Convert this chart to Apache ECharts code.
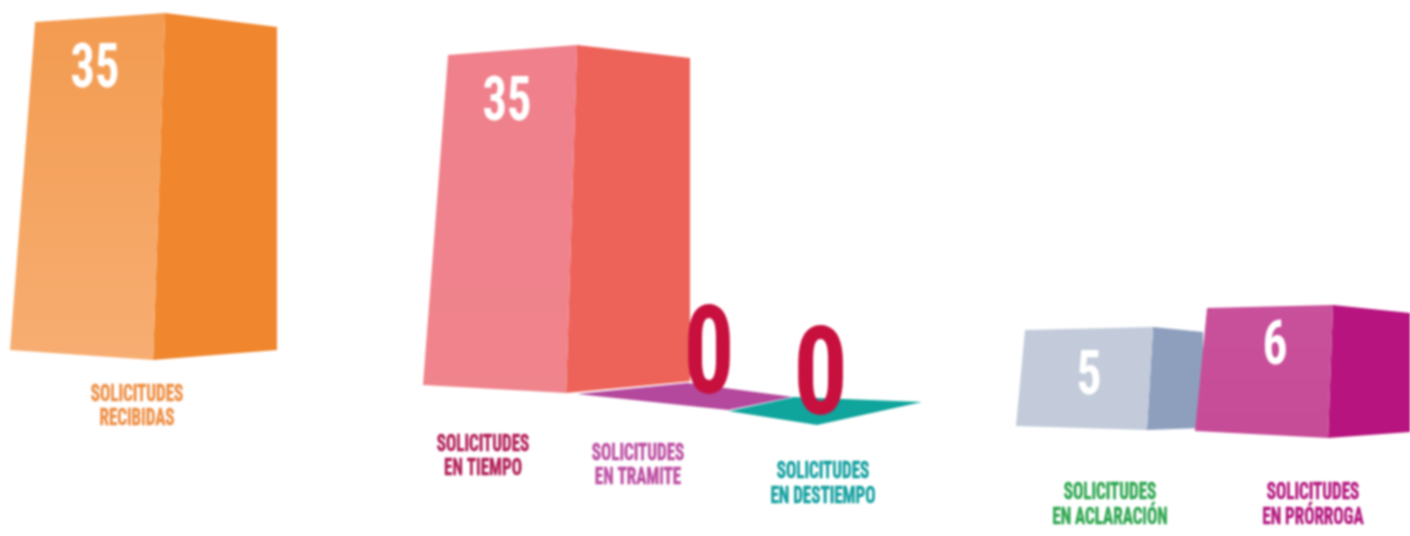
<!DOCTYPE html>
<html><head><meta charset="utf-8">
<style>html,body{margin:0;padding:0;background:#fff}#c{width:1410px;height:536px;filter:blur(.9px)}</style>
<script src="https://cdn.jsdelivr.net/npm/echarts@6/dist/echarts.min.js"></script>
</head><body><div id="c"></div>
<script>
const categories = ['SOLICITUDES\nRECIBIDAS','SOLICITUDES\nEN TIEMPO','SOLICITUDES\nEN TRAMITE','SOLICITUDES\nEN DESTIEMPO','SOLICITUDES\nEN ACLARACIÓN','SOLICITUDES\nEN PRÓRROGA'];
const values = [35, 35, 0, 0, 5, 6];

// layout: panel box, face shapes as fractions of the panel, label offsets, colours
const FONT = '"Liberation Sans Narrow","Roboto Condensed","Liberation Sans",sans-serif';
const panels = [
 {box:[10,13,267,347], front:[[.094,.026],[.581,0],[.536,1],[0,.971]], side:[[.581,0],[1,.040],[1,.971],[.536,1]],
  fill:['#F39B50','#F7AE72'], sideFill:'#F0862E', text:'#EE8F45', label:[-6.5,47], num:[-48.5,58], numScale:.78},
 {box:[423,45,267,348], front:[[.094,.029],[.577,0],[.536,1],[0,.977]], side:[[.577,0],[1,.037],[1,.966],[.536,1]],
  fill:['#EF808C','#F0848C'], sideFill:'#ED6359', text:'#B21F58', label:[-73.5,64], num:[-49.5,59], numScale:.78},
 {box:[577,383,216,27], floor:[[0,.41],[.51,0],[1,.52],[.70,1]],
  fill:['#B4489D','#B4489D'], text:'#BC4DA2', label:[-47,56], num:[24,-20.5], numScale:.82},
 {box:[728,397,194,28], floor:[[0,.5],[.335,0],[1,.18],[.459,1]], seam:true,
  fill:['#0FA49C','#0FA49C'], text:'#139F9F', label:[-2,59.5], num:[-4.5,-13.5], numScale:.88},
 {box:[1016,327,187,103], front:[[.048,.029],[.733,0],[.70,1],[0,.961]], side:[[.733,0],[1,.049],[1,.98],[.70,1]],
  fill:['#C3CBDA','#C3CBDA'], sideFill:'#8E9FBE', text:'#2EA650', label:[.5,75.5], num:[-20.5,51], numScale:.8},
 {box:[1195,305,215,133], front:[[.056,.023],[.642,0],[.619,1],[0,.947]], side:[[.642,0],[1,.06],[1,.955],[.619,1]],
  fill:['#C9509B','#C74C98'], sideFill:'#B7147F', text:'#B4177F', label:[10.5,67.5], num:[-27.5,43], numScale:.8}
];

const grids = panels.map(p => ({left:p.box[0], top:p.box[1], width:p.box[2], height:p.box[3], containLabel:false}));
const xAxes = panels.map((p,i) => ({gridIndex:i, type:'category', data:[categories[i]], show:false, boundaryGap:true}));
const yAxes = panels.map((p,i) => ({gridIndex:i, type:'value', min:0, max:values[i]||1, show:false}));

function renderBar(p, i){
  return function(params, api){
    const val = api.value(1);
    const base = api.coord([0, 0]);
    const topY = api.coord([0, val||1])[1];
    const w = api.size([1,0])[0];
    const h = base[1] - topY;
    const left = base[0] - w/2;
    const pts = f => f.map(q => [left + q[0]*w, topY + q[1]*h]);
    const grad = new echarts.graphic.LinearGradient(0,0,0,1,[{offset:0,color:p.fill[0]},{offset:1,color:p.fill[1]}]);
    const kids = [];
    if (p.floor) {
      kids.push({type:'polygon', shape:{points:pts(p.floor)}, style:{fill:grad}});
      if (p.seam) {
        const s = pts(p.floor);
        kids.push({type:'line', shape:{x1:s[0][0],y1:s[0][1],x2:s[1][0],y2:s[1][1]}, style:{stroke:'rgba(255,255,255,.6)', lineWidth:1}});
      }
    } else {
      kids.push({type:'polygon', shape:{points:pts(p.side)}, style:{fill:p.sideFill}});
      kids.push({type:'polygon', shape:{points:pts(p.front)}, style:{fill:grad}});
    }
    const isZero = val === 0;
    kids.push({type:'text', x:base[0]+p.num[0], y:topY+p.num[1], scaleX:p.numScale,
      style:{text:String(val), fill:isZero?'#C8103F':'#FFFFFF', font:`bold ${isZero?123:62}px ${FONT}`, align:'center', verticalAlign:'middle'}});
    kids.push({type:'text', x:base[0]+p.label[0], y:base[1]+p.label[1], scaleX:.71,
      style:{text:categories[i], fill:p.text, stroke:p.text, lineWidth:.5, font:`bold 24px ${FONT}`, lineHeight:24.5, align:'center', verticalAlign:'middle'}});
    return {type:'group', children:kids};
  };
}

const series = panels.map((p,i) => ({
  type:'custom', xAxisIndex:i, yAxisIndex:i, encode:{x:0,y:1}, clip:false, z:2+i,
  data:[[0, values[i]]], renderItem:renderBar(p,i), silent:true
}));

const chart = echarts.init(document.getElementById('c'));
chart.setOption({animation:false, backgroundColor:'#fff', grid:grids, xAxis:xAxes, yAxis:yAxes, series});
</script></body></html>
